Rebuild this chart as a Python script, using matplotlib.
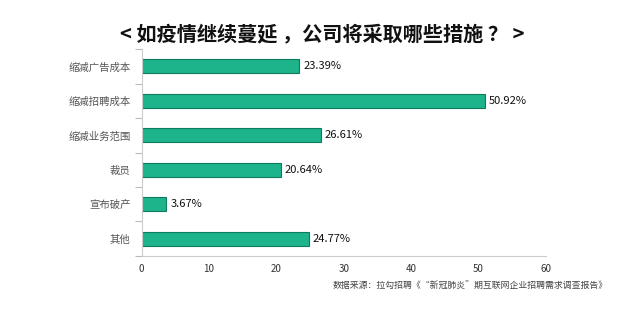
import numpy as np
import matplotlib
matplotlib.use("Agg")
from matplotlib import pyplot as plt

plt.rcParams['font.family'] = ['Noto Sans CJK SC', 'DejaVu Sans']

categories = ['缩减广告成本', '缩减招聘成本', '缩减业务范围', '裁员', '宣布破产', '其他']
values = [23.39, 50.92, 26.61, 20.64, 3.67, 24.77]
xticks = [0, 10, 20, 30, 40, 50, 60]

fig = plt.figure(figsize=(6.25, 3.11), dpi=100)
ax = fig.add_axes([0.2265, 0.177, 0.647, 0.665])

y = np.arange(len(categories))
ax.barh(y, values, height=0.4, color='#1db48c', edgecolor='#0f7a5c', linewidth=0.8)
for yi, v in zip(y, values):
    ax.text(v + 0.6, yi, f'{v:.2f}%', va='center', ha='left', fontsize=8, color='#111111')

ax.set_ylim(len(categories) - 0.5, -0.5)
ax.set_xlim(0, 60)
ax.set_yticks(y)
ax.set_yticklabels(categories, fontsize=7.5, color='#555555')
ax.set_yticks(np.arange(-0.5, len(categories)), minor=True)
ax.tick_params(axis='y', which='major', length=0, pad=8)
ax.tick_params(axis='y', which='minor', length=5, color='#bbbbbb', width=0.8)
ax.set_xticks(xticks)
ax.set_xticklabels([str(t) for t in xticks], fontsize=7, color='#333333')
ax.tick_params(axis='x', length=0, pad=6)

for s in ['top', 'right']:
    ax.spines[s].set_visible(False)
ax.spines['left'].set_color('#cccccc')
ax.spines['bottom'].set_color('#cccccc')

fig.text(0.515, 0.89, '< 如疫情继续蔓延 ，公司将采取哪些措施 ？ >', ha='center', va='center',
         fontsize=14.5, fontweight='bold', color='#111111')
fig.text(0.972, 0.08, '数据来源：拉勾招聘《“新冠肺炎”期互联网企业招聘需求调查报告》', ha='right',
         va='center', fontsize=6.4, color='#444444')

fig.savefig('out.png', dpi=100)
